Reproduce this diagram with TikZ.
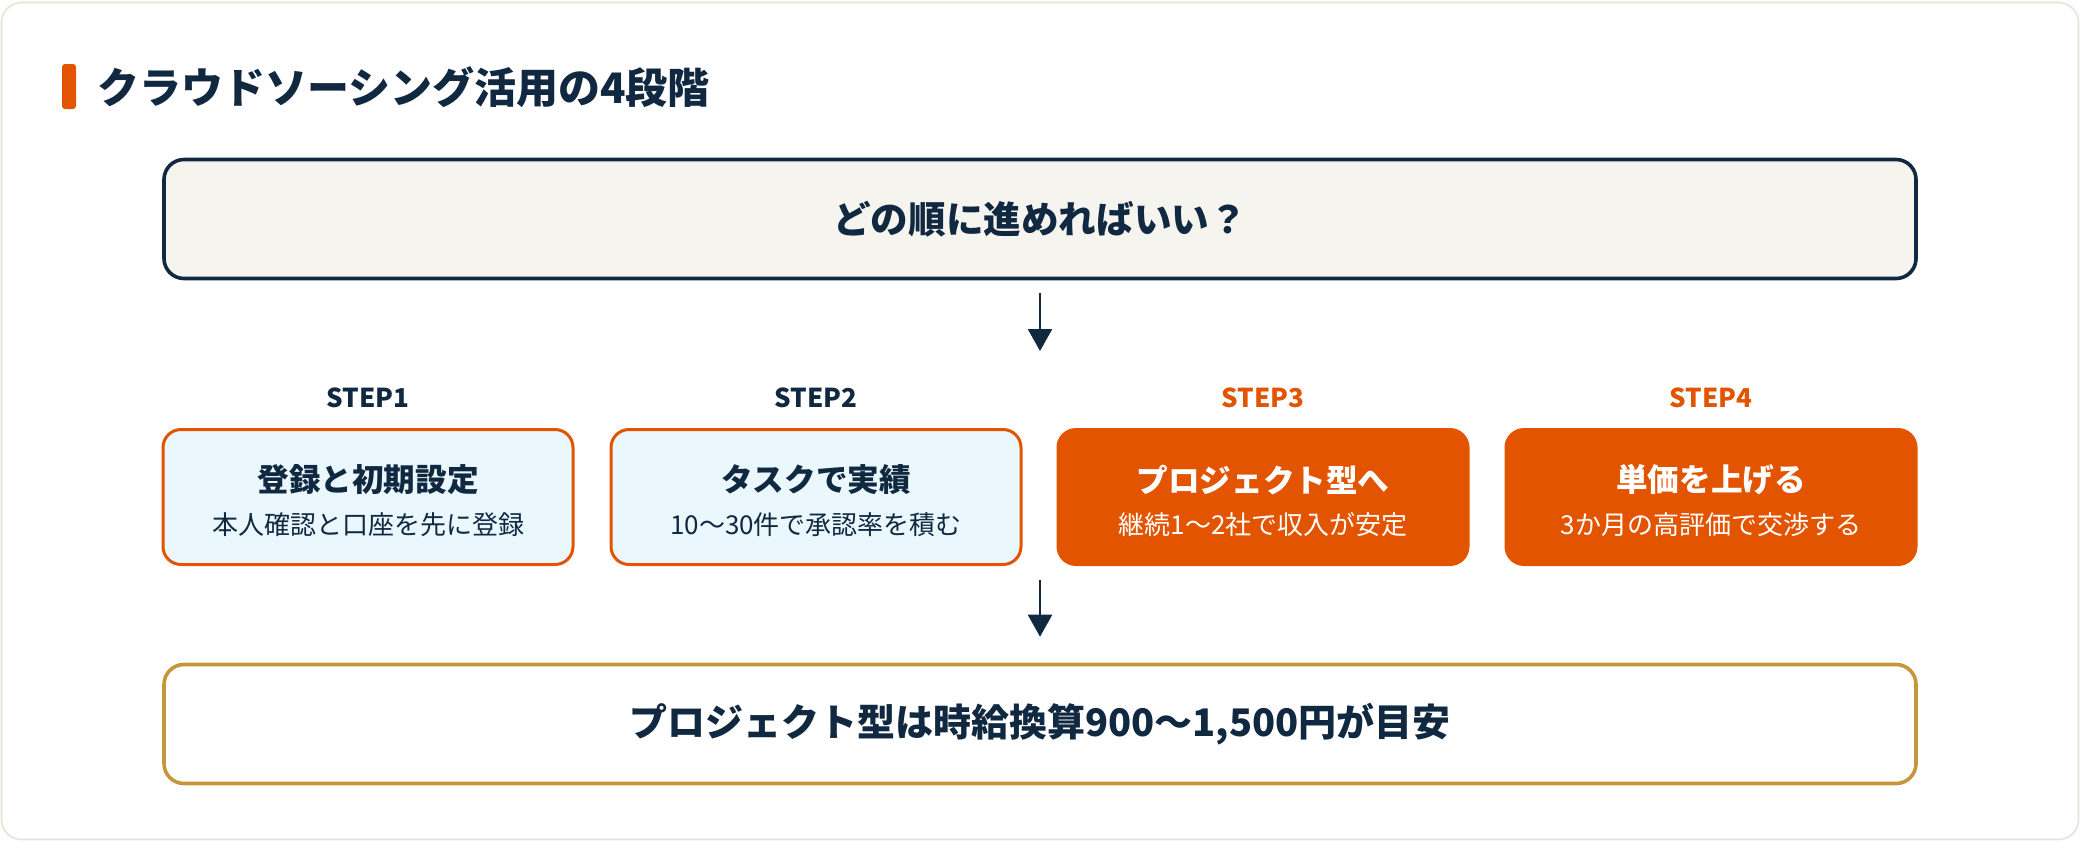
\documentclass[tikz,border=0pt]{standalone}
\usepackage{fontspec}
\setmainfont{Noto Sans CJK JP}
\usepackage{xcolor}
\usepackage{tikz}
\usetikzlibrary{arrows.meta,positioning}
\definecolor{navy}{RGB}{16,40,64}
\definecolor{brand}{RGB}{227,84,0}
\definecolor{paper}{RGB}{245,244,239}
\definecolor{cardline}{RGB}{230,227,216}
\definecolor{skyfill}{RGB}{234,247,253}
\definecolor{gold}{RGB}{200,150,58}

\tikzset{
  stepbox/.style={rounded corners=9pt, minimum width=205pt, minimum height=67.5pt,
    line width=1.5pt, draw=brand, inner sep=0pt},
  stepbox light/.style={stepbox, fill=skyfill},
  stepbox solid/.style={stepbox, fill=brand},
  steplabel/.style={font=\fontsize{13}{15}\selectfont\bfseries, text=navy},
  steptitle/.style={font=\fontsize{15.8}{18}\selectfont\bfseries, text=navy},
  stepnote/.style={font=\fontsize{13}{15}\selectfont, text=navy},
  widebox/.style={rounded corners=10pt, minimum width=876pt, minimum height=59.5pt,
    line width=1.8pt, font=\fontsize{18.8}{22}\selectfont\bfseries, text=navy},
  flow/.style={draw=navy, line width=1.2pt, -{Triangle[width=12pt,length=11pt]}}
}

\begin{document}
\begin{tikzpicture}[x=0.5pt,y=-0.5pt]
  \useasboundingbox (0,0) rectangle (2080,842);
  % card
  \draw[draw=cardline, fill=white, line width=0.8pt, rounded corners=10pt]
    (1.5,2.5) rectangle (2078.5,839.5);
  % heading
  \fill[brand, rounded corners=1.5pt] (62,64) rectangle (76,109);
  \node[anchor=west, font=\fontsize{21}{25}\selectfont\bfseries, text=navy] (heading)
    at (90,87) {クラウドソーシング活用の4段階};

  % question
  \node[widebox, draw=navy, fill=paper] (question) at (1040,219) {どの順に進めればいい？};
  \coordinate (q end) at (1040,351);
  \draw[flow] ([yshift=-6.5pt]question.south) -- (q end);

  % steps
  \node[steplabel] (label1) at (368,398) {STEP1};
  \node[steplabel] (label2) at (816,398) {STEP2};
  \node[steplabel, text=brand] (label3) at (1263,398) {STEP3};
  \node[steplabel, text=brand] (label4) at (1711,398) {STEP4};

  \node[stepbox light] (step1) at (368,497) {};
  \node[stepbox light] (step2) at (816,497) {};
  \node[stepbox solid] (step3) at (1263,497) {};
  \node[stepbox solid] (step4) at (1711,497) {};

  \node[steptitle] (title1) at ([yshift=8.5pt]step1.center) {登録と初期設定};
  \node[stepnote] (note1) at ([yshift=-14pt]step1.center) {本人確認と口座を先に登録};
  \node[steptitle] (title2) at ([yshift=8.5pt]step2.center) {タスクで実績};
  \node[stepnote] (note2) at ([yshift=-14pt]step2.center) {10〜30件で承認率を積む};
  \node[steptitle, text=white] (title3) at ([yshift=8.5pt]step3.center) {プロジェクト型へ};
  \node[stepnote, text=white] (note3) at ([yshift=-14pt]step3.center) {継続1〜2社で収入が安定};
  \node[steptitle, text=white] (title4) at ([yshift=8.5pt]step4.center) {単価を上げる};
  \node[stepnote, text=white] (note4) at ([yshift=-14pt]step4.center) {3か月の高評価で交渉する};

  % goal
  \coordinate (g start) at (1040,580);
  \node[widebox, draw=gold, fill=white, font=\fontsize{19}{23}\selectfont\bfseries]
    (goal) at (1040,724) {プロジェクト型は時給換算900〜1,500円が目安};
  \draw[flow] (g start) -- ([yshift=13pt]goal.north);
\end{tikzpicture}
\end{document}
